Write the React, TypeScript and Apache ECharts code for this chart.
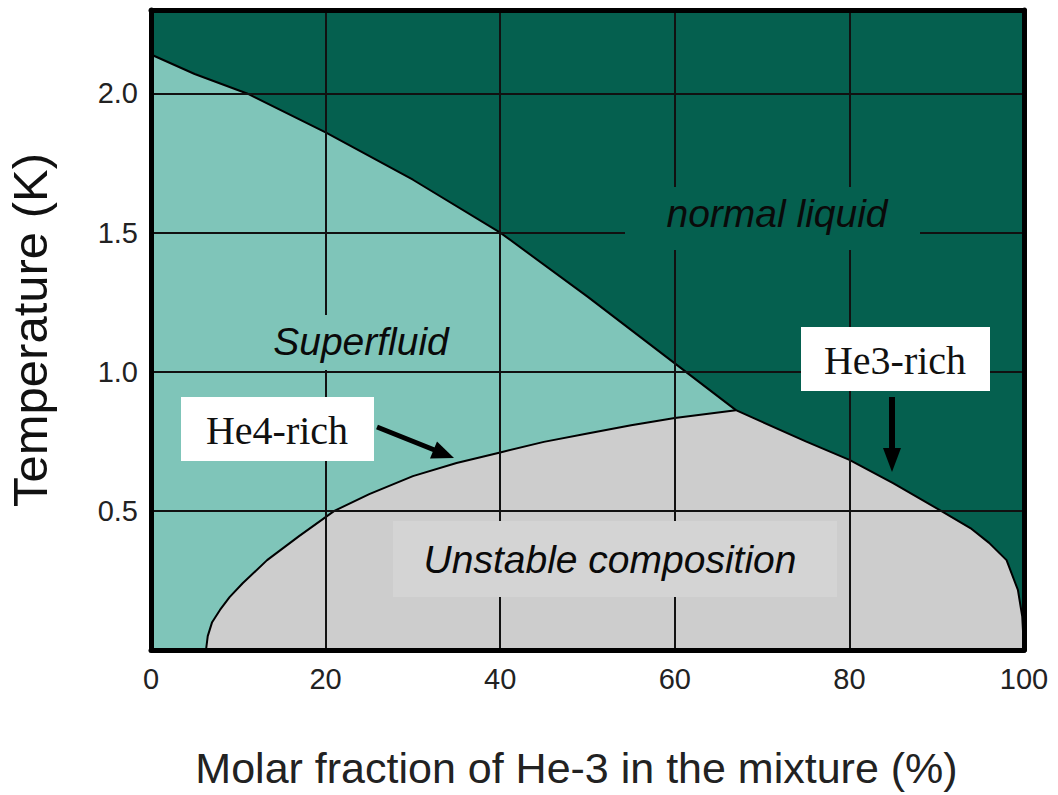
import React, { useEffect, useRef } from "react";
import * as echarts from "echarts";

// ---- Data ----
const xTicks = [0, 20, 40, 60, 80, 100];
const yTicks = [0.5, 1.0, 1.5, 2.0];

// Lambda line (superfluid / normal liquid boundary)
const lambdaX = [0, 5, 11, 20, 30, 40, 50, 60, 67];
const lambdaT = [2.14, 2.07, 2.0, 1.86, 1.69, 1.5, 1.27, 1.03, 0.862];

// He4-rich branch of the phase-separation curve
const he4X = [6.3, 6.5, 7.0, 7.9, 9.0, 10.5, 13.3, 17, 21, 25, 30, 35, 40, 45, 50, 55, 60, 67];
const he4T = [0, 0.05, 0.1, 0.144, 0.19, 0.24, 0.323, 0.41, 0.5, 0.56, 0.625, 0.672, 0.71, 0.748, 0.778, 0.808, 0.834, 0.862];

// He3-rich branch of the phase-separation curve
const he3X = [70, 75, 80, 85, 90.5, 94, 96, 98, 99.3, 99.8, 100];
const he3T = [0.82, 0.75, 0.683, 0.6, 0.5, 0.435, 0.385, 0.323, 0.216, 0.12, 0];

const DARK = "#05604f";
const LIGHT = "#7fc5b9";
const GREY = "#cdcdcd";
const BOXGREY = "#d4d4d4";
const SANS = "'Liberation Sans', Arial, Helvetica, sans-serif";
const SERIF = "'Liberation Serif', 'Times New Roman', serif";

export default function App() {
  const ref = useRef<HTMLDivElement>(null);

  useEffect(() => {
    if (!ref.current) return;
    const chart = echarts.init(ref.current, null, { renderer: "svg" });

    const lambdaData = lambdaX.map((x, i) => [x, lambdaT[i]]);
    const unstableData = [
      ...he4X.map((x, i) => [x, he4T[i]]),
      ...he3X.map((x, i) => [x, he3T[i]]),
    ];

    const frameLine = { show: true, onZero: false, lineStyle: { color: "#000", width: 5 } };

    const option: any = {
      animation: false,
      backgroundColor: "#ffffff",
      grid: {
        left: 151,
        right: 34,
        top: 10,
        bottom: 145,
        show: true,
        backgroundColor: DARK,
        borderWidth: 0,
        containLabel: false,
        outerBoundsMode: "none",
      },
      xAxis: [
        {
          type: "value",
          min: 0,
          max: 100,
          interval: 20,
          z: 3,
          axisLine: frameLine,
          axisTick: { show: false },
          splitLine: { show: true, lineStyle: { color: "#111", width: 2 } },
          axisLabel: {
            fontSize: 29,
            color: "#222",
            margin: 14,
            fontFamily: SANS,
            formatter: (v: number) => (xTicks.includes(v) ? String(v) : ""),
          },
          name: "Molar fraction of He-3 in the mixture (%)",
          nameLocation: "middle",
          nameGap: 96,
          nameTextStyle: { fontSize: 43, color: "#222", fontFamily: SANS, padding: [0, 22, 0, 0] },
        },
        {
          type: "value",
          position: "top",
          min: 0,
          max: 100,
          z: 3,
          axisLine: frameLine,
          axisTick: { show: false },
          axisLabel: { show: false },
          splitLine: { show: false },
        },
      ],
      yAxis: [
        {
          type: "value",
          min: 0,
          max: 2.3,
          interval: 0.5,
          z: 3,
          axisLine: frameLine,
          axisTick: { show: false },
          splitLine: { show: true, lineStyle: { color: "#111", width: 2 } },
          axisLabel: {
            fontSize: 29,
            color: "#222",
            margin: 13,
            fontFamily: SANS,
            formatter: (v: number) =>
              yTicks.some((t) => Math.abs(t - v) < 1e-6) ? v.toFixed(1) : "",
          },
          name: "Temperature (K)",
          nameLocation: "middle",
          nameGap: 97,
          nameTextStyle: { fontSize: 49, color: "#111", fontFamily: SANS },
        },
        {
          type: "value",
          position: "right",
          min: 0,
          max: 2.3,
          z: 3,
          axisLine: frameLine,
          axisTick: { show: false },
          axisLabel: { show: false },
          splitLine: { show: false },
        },
      ],
      series: [
        {
          name: "Lambda line",
          type: "line",
          data: lambdaData,
          symbol: "none",
          smooth: false,
          z: 2,
          lineStyle: { color: "#000", width: 2 },
          areaStyle: { color: LIGHT, opacity: 1, origin: "start" },
        },
        {
          name: "Phase separation",
          type: "line",
          data: unstableData,
          symbol: "none",
          smooth: false,
          z: 2,
          lineStyle: { color: "#000", width: 2 },
          areaStyle: { color: GREY, opacity: 1, origin: "start" },
        },
      ],
      graphic: [
        // region labels with boxes that hide the grid lines
        { type: "rect", z: 10, shape: { x: 625, y: 187, width: 295, height: 63 }, style: { fill: DARK } },
        {
          type: "text", z: 11, x: 777, y: 213,
          style: { text: "normal liquid", font: `italic 39px ${SANS}`, fill: "#0a0a0a", align: "center", verticalAlign: "middle" },
        },
        { type: "rect", z: 10, shape: { x: 255, y: 315, width: 210, height: 55 }, style: { fill: LIGHT } },
        {
          type: "text", z: 11, x: 361, y: 341,
          style: { text: "Superfluid", font: `italic 39px ${SANS}`, fill: "#0a0a0a", align: "center", verticalAlign: "middle" },
        },
        { type: "rect", z: 10, shape: { x: 393, y: 521, width: 444, height: 76 }, style: { fill: BOXGREY } },
        {
          type: "text", z: 11, x: 610, y: 559,
          style: { text: "Unstable composition", font: `italic 39px ${SANS}`, fill: "#0a0a0a", align: "center", verticalAlign: "middle" },
        },
        // He4-rich callout
        { type: "rect", z: 10, shape: { x: 181, y: 397, width: 193, height: 64 }, style: { fill: "#ffffff" } },
        {
          type: "text", z: 11, x: 277, y: 430,
          style: { text: "He4-rich", font: `40px ${SERIF}`, fill: "#111", align: "center", verticalAlign: "middle" },
        },
        { type: "line", z: 10, shape: { x1: 377, y1: 427, x2: 437, y2: 451 }, style: { stroke: "#000", lineWidth: 5 } },
        { type: "polygon", z: 10, shape: { points: [[454, 458], [437, 441.5], [430, 458.5]] }, style: { fill: "#000" } },
        // He3-rich callout
        { type: "rect", z: 10, shape: { x: 801, y: 327, width: 189, height: 64 }, style: { fill: "#ffffff" } },
        {
          type: "text", z: 11, x: 895, y: 360,
          style: { text: "He3-rich", font: `40px ${SERIF}`, fill: "#111", align: "center", verticalAlign: "middle" },
        },
        { type: "line", z: 10, shape: { x1: 892, y1: 397, x2: 892, y2: 452 }, style: { stroke: "#000", lineWidth: 6 } },
        { type: "polygon", z: 10, shape: { points: [[892, 472], [883, 448], [901, 448]] }, style: { fill: "#000" } },
      ],
    };

    chart.setOption(option);
    return () => chart.dispose();
  }, []);

  return (
    <div
      ref={ref}
      style={{ position: "absolute", left: 0, top: 0, width: 1058, height: 795, background: "#fff" }}
    />
  );
}
